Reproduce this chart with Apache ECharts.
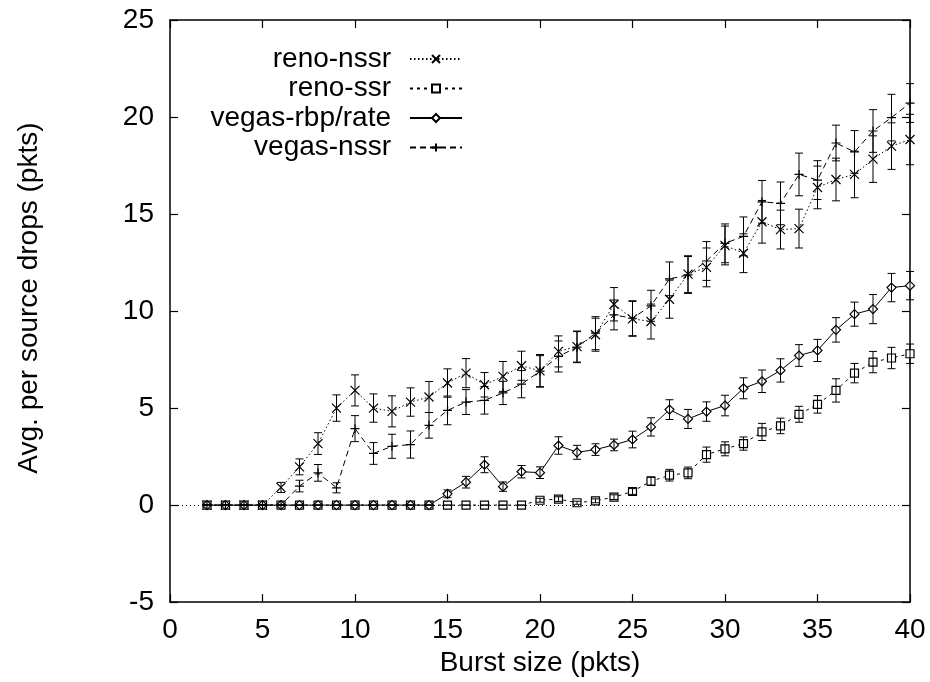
<!DOCTYPE html>
<html><head><meta charset="utf-8">
<script src="https://cdn.jsdelivr.net/npm/echarts@6/dist/echarts.min.js"></script>
<style>html,body{margin:0;padding:0;background:#fff}#c{width:930px;height:682px}</style>
</head><body><div id="c"></div>
<script>
const burstSizes = [2,3,4,5,6,7,8,9,10,11,12,13,14,15,16,17,18,19,20,21,22,23,24,25,26,27,28,29,30,31,32,33,34,35,36,37,38,39,40];

const renoNssr = [0,0,0,0,0.91,1.97,3.17,5.0,5.91,5.0,4.83,5.31,5.57,6.29,6.8,6.2,6.63,7.18,6.92,7.92,8.17,8.78,10.35,9.6,9.46,10.61,11.9,12.25,13.38,12.98,14.6,14.2,14.25,16.37,16.78,17.04,17.83,18.5,18.84];
const renoNssrErr = [0,0,0,0,0.26,0.41,0.56,0.68,0.8,0.73,0.8,0.73,0.8,0.73,0.75,0.63,0.77,0.75,0.84,0.8,0.8,0.85,0.86,0.9,0.9,0.98,0.95,1.0,1.0,1.0,1.1,1.0,1.0,1.1,1.1,1.2,1.2,1.2,1.3];

const renoSsr = [0,0,0,0,0,0,0,0,0,0,0,0,0,0,0,0,0,0,0.25,0.31,0.12,0.22,0.41,0.7,1.23,1.54,1.66,2.6,2.9,3.17,3.77,4.08,4.68,5.19,5.91,6.8,7.37,7.58,7.8];
const renoSsrErr = [0,0,0,0,0,0,0,0,0,0,0,0,0,0,0,0,0,0,0.1,0.12,0.08,0.1,0.12,0.15,0.22,0.3,0.3,0.39,0.36,0.34,0.44,0.4,0.41,0.45,0.6,0.5,0.55,0.55,0.5];

const vegasRbp = [0,0,0,0,0,0,0,0,0,0,0,0,0,0.58,1.18,2.08,0.95,1.72,1.67,3.07,2.72,2.86,3.1,3.38,4.03,4.92,4.44,4.82,5.13,6.02,6.38,6.94,7.71,7.97,9.03,9.84,10.1,11.21,11.31];
const vegasRbpErr = [0,0,0,0,0,0,0,0,0,0,0,0,0,0.2,0.3,0.41,0.24,0.32,0.3,0.45,0.36,0.3,0.3,0.43,0.47,0.51,0.49,0.5,0.53,0.54,0.58,0.6,0.56,0.57,0.63,0.62,0.75,0.73,0.73];

const vegasNssr = [0,0,0,0,0,0.98,1.66,0.89,3.94,2.66,3.03,3.12,4.11,4.88,5.31,5.4,5.78,6.23,6.9,7.66,8.14,8.86,9.8,9.63,10.27,11.66,11.86,12.58,13.49,13.85,15.63,15.55,17.04,16.75,18.66,18.2,19.28,19.97,20.72];
const vegasNssrErr = [0,0,0,0,0,0.3,0.43,0.26,0.67,0.56,0.62,0.7,0.66,0.74,0.64,0.71,0.6,0.7,0.8,0.8,0.8,0.85,0.77,0.9,0.8,0.87,0.95,1.0,1.0,1.0,1.1,1.1,1.1,1.0,0.92,1.1,1.1,1.2,1.0];

const xTicks = {min: 0, max: 40, interval: 5};
const yTicks = {min: -5, max: 25, interval: 5};

const FONT = 'Liberation Sans, Arial, Helvetica, sans-serif';
const SYM_X = 'path://M0,0L10,10M10,0L0,10';
const SYM_PLUS = 'path://M5,0L5,10M0,5L10,5';
const SYM_SQ = 'path://M0,0L10,0L10,10L0,10Z';
const SYM_DIA = 'path://M5,0L10,5L5,10L0,5Z';

function pairs(vals) { return burstSizes.map((x, i) => [x, vals[i]]); }
function bars(vals, errs) { return burstSizes.map((x, i) => [x, vals[i] - errs[i], vals[i] + errs[i]]); }

function errRender(params, api) {
  const x = api.value(0), lo = api.value(1), hi = api.value(2);
  const a = api.coord([x, lo]), b = api.coord([x, hi]);
  const cap = 4;
  const style = {stroke: '#000', lineWidth: 1, fill: null};
  return {type: 'group', children: [
    {type: 'line', shape: {x1: a[0], y1: a[1], x2: b[0], y2: b[1]}, style: style},
    {type: 'line', shape: {x1: a[0] - cap, y1: a[1], x2: a[0] + cap, y2: a[1]}, style: style},
    {type: 'line', shape: {x1: b[0] - cap, y1: b[1], x2: b[0] + cap, y2: b[1]}, style: style}
  ]};
}

function lineSeries(name, vals, symbol, dash, size) {
  return {
    name: name, type: 'line', data: pairs(vals),
    symbol: symbol, symbolSize: size, showAllSymbol: true,
    lineStyle: {color: '#000', width: 1, type: dash},
    itemStyle: {color: '#fff', borderColor: '#000', borderWidth: 1.2},
    emphasis: {disabled: true}, animation: false, z: 3
  };
}
function errSeries(vals, errs) {
  return {type: 'custom', renderItem: errRender, data: bars(vals, errs),
    encode: {x: 0, y: [1, 2]}, silent: true, animation: false, z: 4};
}

const axisCommon = {
  axisLine: {show: true, onZero: false, lineStyle: {color: '#000', width: 1.5}},
  axisTick: {show: true, inside: true, length: 8, lineStyle: {color: '#000', width: 1.2}},
  splitLine: {show: false}
};

const chart = echarts.init(document.getElementById('c'), null, {renderer: 'canvas'});
const s1 = lineSeries('reno-nssr', renoNssr, SYM_X, [1.5, 2.5], 9);
s1.markLine = {silent: true, symbol: ['none', 'none'], label: {show: false},
  lineStyle: {color: '#000', width: 1, type: [1, 3]}, data: [{yAxis: 0}], animation: false};
chart.setOption({
  backgroundColor: '#fff',
  animation: false,
  textStyle: {fontFamily: FONT},
  grid: {left: 170, right: 20, top: 20, bottom: 78.5, containLabel: false},
  legend: {
    orient: 'vertical', align: 'right', right: 462, top: 40,
    itemWidth: 52, itemHeight: 10, itemGap: 1.5,
    textStyle: {fontFamily: FONT, fontSize: 28, color: '#000', padding: [0, 14, 0, 0], lineHeight: 28},
    selectedMode: false,
    data: ['reno-nssr', 'reno-ssr', 'vegas-rbp/rate', 'vegas-nssr']
  },
  xAxis: [
    Object.assign({type: 'value', position: 'bottom', min: xTicks.min, max: xTicks.max, interval: xTicks.interval,
      name: 'Burst size (pkts)', nameLocation: 'middle', nameGap: 42,
      nameTextStyle: {fontFamily: FONT, fontSize: 28, color: '#000'},
      axisLabel: {fontFamily: FONT, fontSize: 28, color: '#000', margin: 14}}, axisCommon),
    Object.assign({type: 'value', position: 'top', min: xTicks.min, max: xTicks.max, interval: xTicks.interval,
      axisLabel: {show: false}}, axisCommon)
  ],
  yAxis: [
    Object.assign({type: 'value', position: 'left', min: yTicks.min, max: yTicks.max, interval: yTicks.interval,
      name: 'Avg. per source drops (pkts)', nameLocation: 'middle', nameGap: 127, nameRotate: 90,
      nameTextStyle: {fontFamily: FONT, fontSize: 28, color: '#000', padding: [0, 0, 0, 26]},
      axisLabel: {fontFamily: FONT, fontSize: 28, color: '#000', margin: 16}}, axisCommon),
    Object.assign({type: 'value', position: 'right', min: yTicks.min, max: yTicks.max, interval: yTicks.interval,
      axisLabel: {show: false}}, axisCommon)
  ],
  series: [
    s1,
    lineSeries('reno-ssr', renoSsr, SYM_SQ, [3, 4], 8),
    lineSeries('vegas-rbp/rate', vegasRbp, SYM_DIA, 'solid', 9),
    lineSeries('vegas-nssr', vegasNssr, SYM_PLUS, [6, 4], 9),
    errSeries(renoNssr, renoNssrErr),
    errSeries(renoSsr, renoSsrErr),
    errSeries(vegasRbp, vegasRbpErr),
    errSeries(vegasNssr, vegasNssrErr)
  ]
});
</script></body></html>
